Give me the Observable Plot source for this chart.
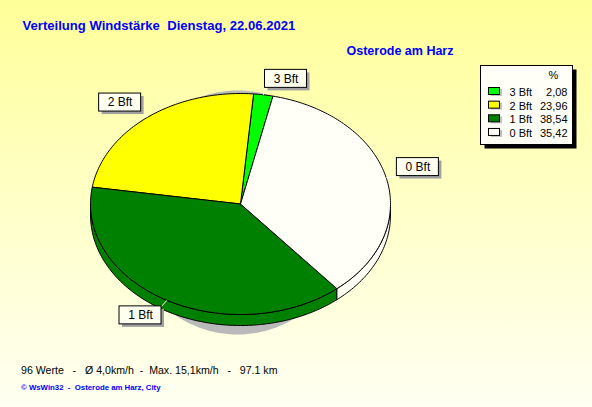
<!DOCTYPE html>
<html>
<head>
<meta charset="utf-8">
<script src="https://cdn.jsdelivr.net/npm/d3@7"></script>
<script src="https://cdn.jsdelivr.net/npm/@observablehq/plot@0.6"></script>
<style>
  html, body { margin: 0; padding: 0; background: #fffff4; }
  #chart svg { display: block; }
</style>
</head>
<body>
<div id="chart"></div>
<script>
// ---- data ----
const categories = ["3 Bft", "2 Bft", "1 Bft", "0 Bft"];
const percents = [2.08, 23.96, 38.54, 35.42];
const sliceColors = ["#00ff00", "#ffff00", "#008000", "#fffff8"];
const titleText = "Verteilung Windstärke  Dienstag, 22.06.2021";
const subtitleText = "Osterode am Harz";
const legendHeader = "%";
const footerText = "96 Werte   -   Ø 4,0km/h  -  Max. 15,1km/h   -   97.1 km";
const creditText = "© WsWin32  -  Osterode am Harz, City";

// ---- layout ----
const W = 592, H = 407;
const cx = 240, cy = 203.5, rx = 150, ry = 110.5, depth = 11;
const startDeg = 77.5;
const shadow = {cx: 237, cy: 212, rx: 115, ry: 122};

function pt(deg, dy = 0) {
  const t = deg * Math.PI / 180;
  return [cx + rx * Math.cos(t), cy - ry * Math.sin(t) + dy];
}
function arc(a0, a1, dy = 0) {
  const n = Math.max(2, Math.ceil(Math.abs(a1 - a0) / 1));
  const out = [];
  for (let i = 0; i <= n; i++) out.push(pt(a0 + (a1 - a0) * i / n, dy));
  return out;
}

// slices
const total = d3.sum(percents);
let acc = startDeg;
const slices = categories.map((c, i) => {
  const a0 = acc, a1 = acc + percents[i] / total * 360;
  acc = a1;
  return {cat: c, value: percents[i], color: sliceColors[i], a0, a1, mid: (a0 + a1) / 2};
});

// polygons
const shadowPts = d3.range(0, 361, 2).map(d => {
  const t = d * Math.PI / 180;
  return {x: shadow.cx + shadow.rx * Math.cos(t), y: shadow.cy - shadow.ry * Math.sin(t)};
});

const sidePts = [];
slices.forEach((s, i) => {
  for (const [lo, hi] of [[180, 360], [540, 720]]) {
    const a = Math.max(s.a0, lo), b = Math.min(s.a1, hi);
    if (b > a) {
      const top = arc(a, b), bot = arc(b, a, depth);
      const ring = [...top, ...bot, top[0]];
      ring.forEach(([x, y]) => sidePts.push({poly: "side" + i + "_" + lo, x, y, fill: s.color}));
    }
  }
});

const topPts = [];
slices.forEach((s, i) => {
  const ring = [[cx, cy], ...arc(s.a0, s.a1), [cx, cy]];
  ring.forEach(([x, y]) => topPts.push({poly: "top" + i, x, y, fill: s.color}));
});

// labels
const bw = 42, bh = 18;
const labels = slices.map(s => {
  const t = s.mid * Math.PI / 180;
  const c = Math.cos(t), sn = Math.sin(t);
  const [ex, ey] = pt(s.mid);
  const ax = ex + 11 * c, ay = ey - 7 * sn;
  const x1 = c >= 0 ? ax : ax - bw;
  const y1 = sn >= 0 ? ay - bh : ay;
  return {cat: s.cat, ex, ey, ax, ay, x1, x2: x1 + bw, y1, y2: y1 + bh};
});

// legend
const lg = {x1: 480.5, y1: 65.5, x2: 572.5, y2: 144.5};
const legendRows = slices.map((s, i) => ({
  cat: s.cat, color: s.color,
  val: s.value.toFixed(2).replace(".", ","),
  cy: 91 + i * 13.65
}));

const boldTexts = [
  {x: 22, y: 29, text: titleText, size: 13.1},
  {x: 346, y: 54, text: subtitleText, size: 12.5}
];
const font = "Liberation Sans, Arial, sans-serif";

const chart = Plot.plot({
  width: W, height: H,
  margin: 0,
  x: {type: "identity", axis: null},
  y: {type: "identity", axis: null},
  color: {type: "identity"},
  style: {background: "linear-gradient(180deg, #ffff99 0%, #ffffc8 50%, #fffff2 100%)", fontFamily: font, overflow: "visible"},
  marks: [
    // pie shadow
    Plot.line(shadowPts, {x: "x", y: "y", fill: "#b9b9b9", stroke: "none", curve: "linear"}),
    // side walls
    Plot.line(sidePts, {x: "x", y: "y", z: "poly", fill: "fill", stroke: "#000", strokeWidth: 1, curve: "linear", strokeLinejoin: "miter"}),
    // top wedges
    Plot.line(topPts, {x: "x", y: "y", z: "poly", fill: "fill", stroke: "#000", strokeWidth: 1, curve: "linear", strokeLinejoin: "miter"}),
    // leader lines
    Plot.link(labels, {x1: "ex", y1: "ey", x2: "ax", y2: "ay", stroke: "#ffffff", strokeWidth: 1}),
    // label boxes
    Plot.rect(labels, {x1: d => d.x1 + 3, x2: d => d.x2 + 3, y1: d => d.y1 + 3, y2: d => d.y2 + 3, fill: "#a0a0a0"}),
    Plot.rect(labels, {x1: "x1", x2: "x2", y1: "y1", y2: "y2", fill: "#fffff0", stroke: "#000", strokeWidth: 1}),
    Plot.text(labels, {x: d => (d.x1 + d.x2) / 2, y: d => (d.y1 + d.y2) / 2, text: "cat", fontSize: 12, fill: "#000", fontFamily: font}),
    // legend
    Plot.rect([lg], {x1: d => d.x1 + 4, x2: d => d.x2 + 4, y1: d => d.y1 + 4, y2: d => d.y2 + 4, fill: "#000"}),
    Plot.rect([lg], {x1: "x1", x2: "x2", y1: "y1", y2: "y2", fill: "#fffff8", stroke: "#000", strokeWidth: 1}),
    Plot.text([legendHeader], {x: 553, y: 78, text: d => d, fontSize: 11, fill: "#000", lineAnchor: "bottom", fontFamily: font}),
    Plot.rect(legendRows, {x1: 491, x2: 502, y1: d => d.cy - 2, y2: d => d.cy + 5, fill: "#c0c0c0"}),
    Plot.rect(legendRows, {x1: 488.5, x2: 499.5, y1: d => d.cy - 3.5, y2: d => d.cy + 3.5, fill: "color", stroke: "#000", strokeWidth: 1}),
    Plot.text(legendRows, {x: 509, y: d => d.cy + 4.5, text: "cat", fontSize: 11, fill: "#000", textAnchor: "start", lineAnchor: "bottom", fontFamily: font}),
    Plot.text(legendRows, {x: 567, y: d => d.cy + 4.5, text: "val", fontSize: 11, fill: "#000", textAnchor: "end", lineAnchor: "bottom", fontFamily: font}),
    // titles and footer
    Plot.text(boldTexts, {x: "x", y: "y", text: "text", fontSize: d => d.size, fontWeight: "bold", fill: "#0000ff", textAnchor: "start", lineAnchor: "bottom", fontFamily: font}),
    Plot.text([footerText], {x: 20.5, y: 373, text: d => d, fontSize: 10.6, fill: "#000", textAnchor: "start", lineAnchor: "bottom", fontFamily: font}),
    Plot.text([creditText], {x: 20.5, y: 389, text: d => d, fontSize: 7.8, fontWeight: "bold", fill: "#0000ff", textAnchor: "start", lineAnchor: "bottom", fontFamily: font})
  ]
});
document.getElementById("chart").appendChild(chart);
</script>
</body>
</html>
